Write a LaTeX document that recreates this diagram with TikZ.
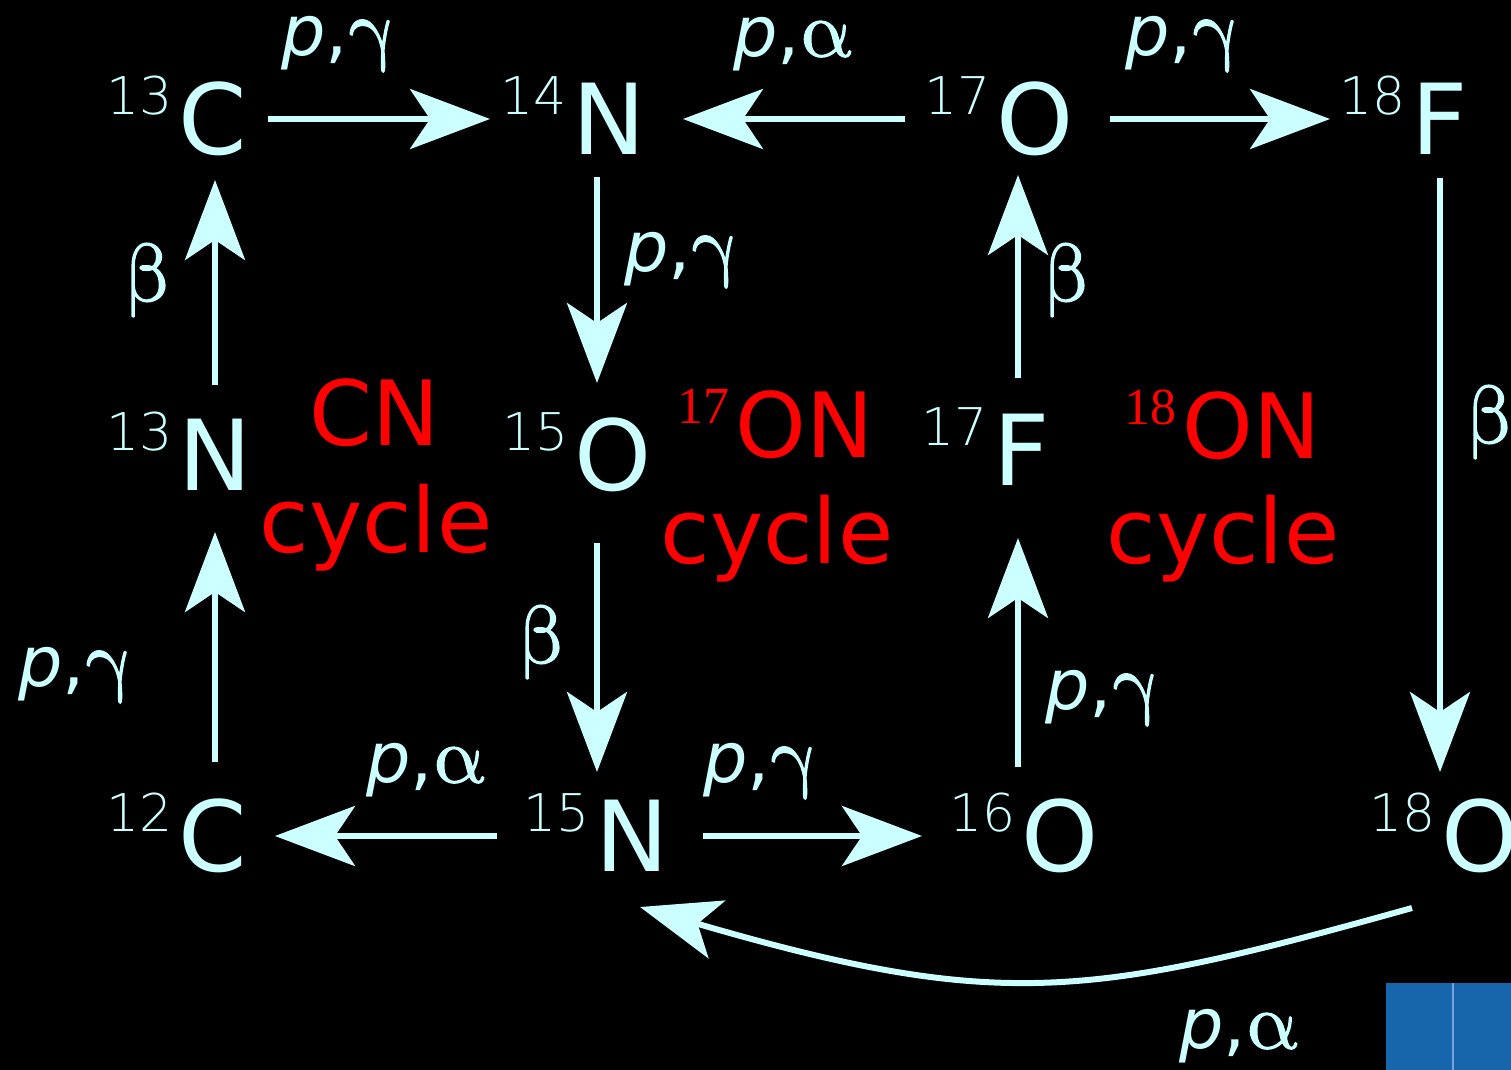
\documentclass[tikz,border=0pt]{standalone}
\usepackage{fontspec}
\setmainfont{DejaVu Sans}
\newfontfamily\serifG{Liberation Serif}
\newfontfamily\greekfont{latinmodern-math.otf}[AutoFakeBold=1.6]
\newfontfamily\supfont{DejaVu Sans ExtraLight}
\usetikzlibrary{arrows.meta,calc}
\definecolor{nuc}{RGB}{204,255,255}
\definecolor{cycred}{RGB}{255,0,0}
\definecolor{boxblue}{RGB}{23,101,170}
\definecolor{boxline}{RGB}{120,160,220}
\newcommand\elemsize{\fontsize{49}{56}\selectfont}
\newcommand\nucsup[1]{\smash{\llap{\raisebox{20pt}{\supfont\fontsize{26}{26}\selectfont #1}\hspace{3pt}}}}
\newcommand\cycsup[1]{\smash{\llap{\raisebox{17pt}{\serifG\fontsize{26}{26}\selectfont #1}\hspace{3pt}}}}
\newcommand\pg{\textit{p},{\greekfont\bfseries\fontsize{40}{44}\selectfont γ}}
\newcommand\pa{\textit{p},{\greekfont\bfseries\fontsize{40}{44}\selectfont α}}
\newcommand\bt{{\greekfont\bfseries\fontsize{41}{44}\selectfont β}}
\begin{document}
\begin{tikzpicture}[x=0.5pt,y=-0.5pt,
  elem/.style={text=nuc,font=\elemsize,inner sep=0pt},
  lbl/.style={text=nuc,font=\fontsize{35}{40}\selectfont,inner sep=0pt},
  cyctext/.style={text=cycred,font=\fontsize{45}{54}\selectfont,inner sep=0pt,anchor=base},
  arr/.style={draw=nuc,line width=3pt,-{Stealth[length=40pt,width=30pt,inset=10pt]}}]
\fill[black] (0,0) rectangle (1511,1070);
\useasboundingbox (0,0) rectangle (1511,1070);
% blue box
\fill[boxblue] (1386,983) rectangle (1511,1070);
\draw[boxline,line width=1.2pt] (1453,983) -- (1453,1070);
% nuclides
\node[elem] (C13) at (213,119) {\nucsup{13}C};
\node[elem] (N14) at (609,119) {\nucsup{14}N};
\node[elem] (O17) at (1035,119) {\nucsup{17}O};
\node[elem] (F18) at (1440,119) {\nucsup{18}F};
\node[elem] (N13) at (215,455) {\nucsup{13}N};
\node[elem] (O15) at (613,455) {\nucsup{15}O};
\node[elem] (F17) at (1022,450) {\nucsup{17}F};
\node[elem] (C12) at (213,836) {\nucsup{12}C};
\node[elem] (N15) at (632,836) {\nucsup{15}N};
\node[elem] (O16) at (1060,836) {\nucsup{16}O};
\node[elem] (O18) at (1480,836) {\nucsup{18}O};
% cycle names
\node[cyctext] (cnA) at (375,445) {CN};
\node[cyctext] (cnB) at (376,552) {cycle};
\node[cyctext] (onA) at (805,457) {\cycsup{17}ON};
\node[cyctext] (onB) at (777,563) {cycle};
\node[cyctext] (ofA) at (1252,458) {\cycsup{18}ON};
\node[cyctext] (ofB) at (1223,563) {cycle};
% arrows
\draw[arr] ($(C13)+(55,0)$) -- ($(N14)+(-119,0)$);
\draw[arr] ($(O17)+(-130,0)$) -- ($(N14)+(74,0)$);
\draw[arr] ($(O17)+(75,0)$) -- ($(F18)+(-110,0)$);
\draw[arr] ($(N14)+(-12,58)$) -- ($(O15)+(-16,-72)$);
\draw[arr] ($(F17)+(-4,-72)$) -- ($(O17)+(-17,56)$);
\draw[arr] ($(F18)+(0,59)$) -- ($(O18)+(-40,-64)$);
\draw[arr] ($(N13)+(0,-70)$) -- ($(C13)+(2,61)$);
\draw[arr] ($(C12)+(2,-74)$) -- ($(N13)+(0,77)$);
\draw[arr] ($(O15)+(-16,88)$) -- ($(N15)+(-35,-64)$);
\draw[arr] ($(O16)+(-42,-69)$) -- ($(F17)+(-4,88)$);
\draw[arr] ($(N15)+(-135,0)$) -- ($(C12)+(62,0)$);
\draw[arr] ($(N15)+(71,0)$) -- ($(O16)+(-138,0)$);
\draw[arr] ($(O18)+(-68,72)$) .. controls (1090,998) and (1000,1012) .. ($(N15)+(8,71)$);
% reaction labels
\node[lbl] (l1) at (338,44) {\pg};
\node[lbl] (l2) at (792,44) {\pa};
\node[lbl] (l3) at (1182,44) {\pg};
\node[lbl] (l4) at (681,260) {\pg};
\node[lbl] (l5) at (1067,280) {\bt};
\node[lbl] (l6) at (1490,422) {\bt};
\node[lbl] (l7) at (148,280) {\bt};
\node[lbl] (l8) at (75,675) {\pg};
\node[lbl] (l9) at (542,642) {\bt};
\node[lbl] (l10) at (1102,698) {\pg};
\node[lbl] (l11) at (425,770) {\pa};
\node[lbl] (l12) at (760,771) {\pg};
\node[lbl] (l13) at (1238,1036) {\pa};
\end{tikzpicture}
\end{document}
